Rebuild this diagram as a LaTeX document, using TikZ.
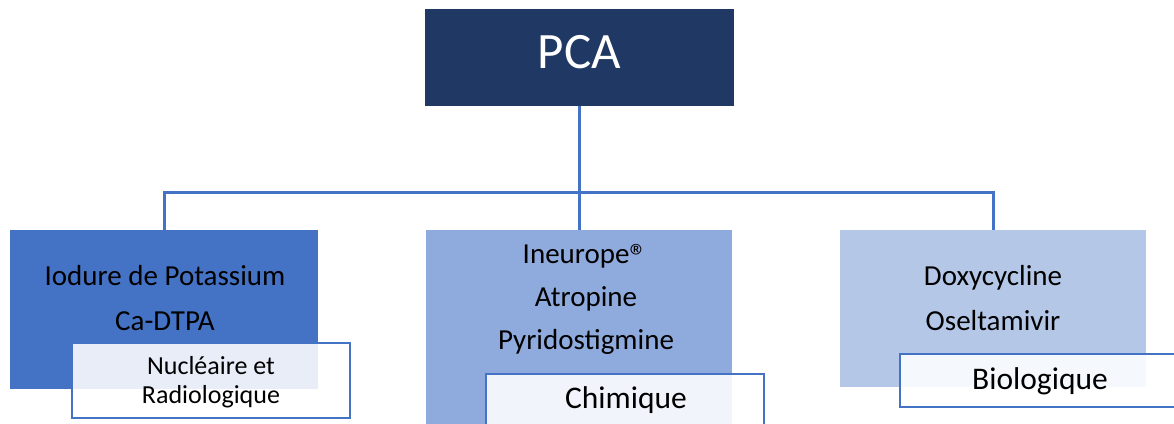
\documentclass[tikz,border=0pt]{standalone}
\usepackage{fontspec}
\setmainfont{Carlito}
\definecolor{navy}{HTML}{203864}
\definecolor{blueA}{HTML}{4472C4}
\definecolor{blueB}{HTML}{8FAADC}
\definecolor{blueC}{HTML}{B4C7E7}
\definecolor{linec}{HTML}{4472C4}
\begin{document}
\begin{tikzpicture}[x=1pt,y=-1pt,
  box/.style={rectangle,draw=none,inner sep=0pt,outer sep=0pt,anchor=north west},
  tagbox/.style={rectangle,draw=linec,line width=2.4pt,fill=white,fill opacity=0.88,inner sep=0pt,outer sep=0pt,anchor=north west},
  conn/.style={draw=linec,line width=3pt},
  txt/.style={anchor=base,inner sep=0pt,font=\fontsize{29}{35}\selectfont},
  tagtxt/.style={anchor=base,inner sep=0pt,font=\fontsize{31.5}{36}\selectfont},
  smalltxt/.style={anchor=base,inner sep=0pt,font=\fontsize{26}{30}\selectfont},
]
\useasboundingbox (0,0) rectangle (1174,423);
\clip (0,0) rectangle (1174,423);
\fill[white] (0,0) rectangle (1174,423);

% boxes
\node[box,fill=navy,minimum width=309pt,minimum height=97pt] (pca) at (425,9) {};
\node[box,fill=blueA,minimum width=308pt,minimum height=159pt] (left) at (10,230) {};
\node[box,fill=blueB,minimum width=306pt,minimum height=200pt] (mid) at (426,230) {};
\node[box,fill=blueC,minimum width=306pt,minimum height=157pt] (right) at (840,230) {};

% connectors
\coordinate (bus) at (579,192);
\draw[conn] (pca.south -| bus) -- (bus) -- (bus |- mid.north);
\draw[conn] (left.north -| 164,0) -- (164,192) -- (993,192) -- (right.north -| 993,0);

% title
\node[anchor=base,inner sep=0pt,text=white,font=\fontsize{51}{60}\selectfont] (pcat) at (579.5,68) {PCA};

% box texts
\node[txt] (l1) at (165,285) {Iodure de Potassium};
\node[txt] (l2) at (165,330) {Ca-DTPA};
\node[txt] (m1) at (585,263) {Ineurope{\fontsize{35}{40}\selectfont\raisebox{-5pt}{®}}};
\node[txt] (m2) at (586,306) {Atropine};
\node[txt] (m3) at (586,349) {Pyridostigmine};
\node[txt] (r1) at (993,285) {Doxycycline};
\node[txt] (r2) at (993,330) {Oseltamivir};

% tags
\node[tagbox,minimum width=278pt,minimum height=75pt] (ltag) at (72,343) {};
\node[tagbox,minimum width=278pt,minimum height=80pt] (mtag) at (486,374) {};
\node[tagbox,minimum width=300pt,minimum height=53pt] (rtag) at (900,354) {};

\node[smalltxt] (lt1) at (211,374) {Nucléaire et};
\node[smalltxt] (lt2) at (211,403) {Radiologique};
\node[tagtxt] (mt) at (626,408) {Chimique};
\node[tagtxt] (rt) at (1040,389) {Biologique};
\end{tikzpicture}
\end{document}
